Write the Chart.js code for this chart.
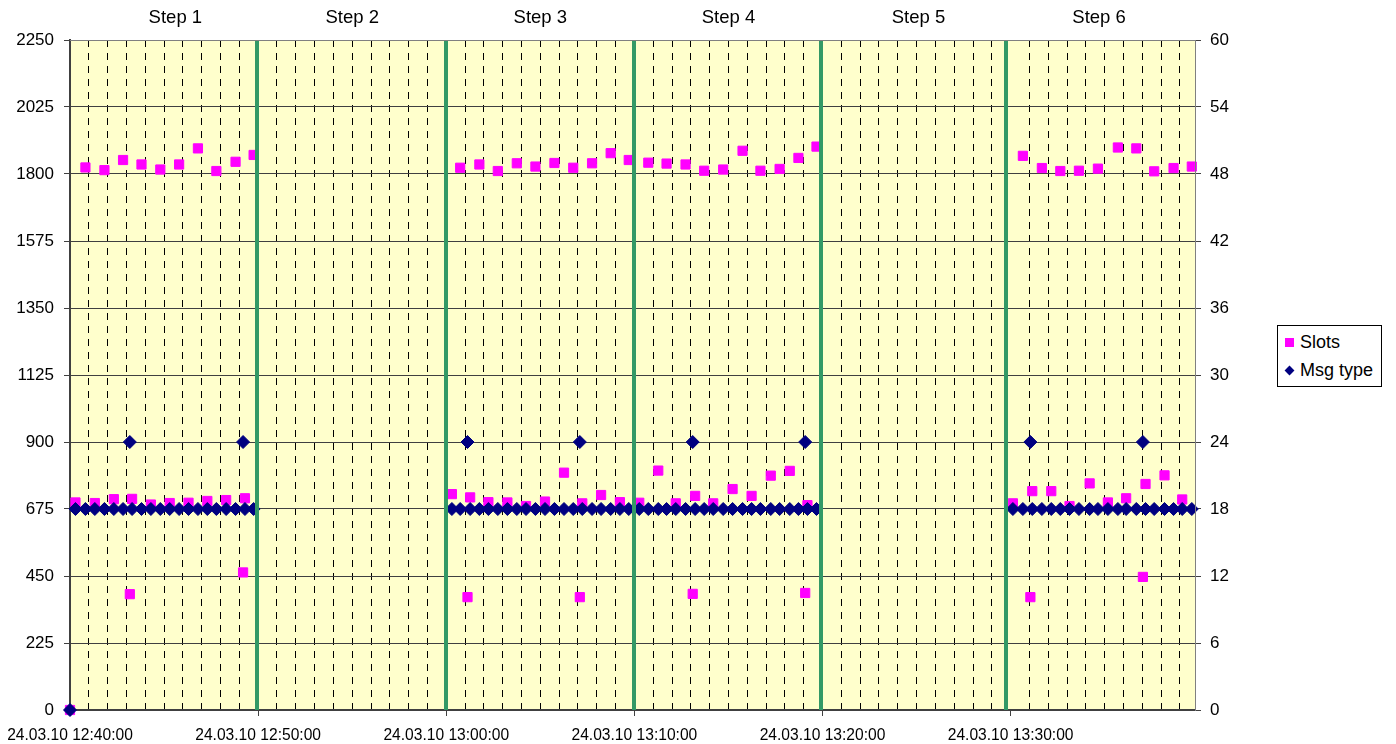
<!DOCTYPE html>
<html>
<head>
<meta charset="utf-8">
<title>Slots / Msg type</title>
<script src="https://cdn.jsdelivr.net/npm/chart.js@4.4.1/dist/chart.umd.min.js"></script>
<style>
  body { margin: 0; background: #fff; font-family: "Liberation Sans", Arial, sans-serif; }
  #wrap { position: relative; width: 1396px; height: 744px; }
  #legend {
    position: absolute; left: 1277px; top: 325px;
    border: 1px solid #000; background: #fff;
    padding: 2px 8px 2px 7px; font-size: 18px; line-height: 28px; color: #000;
  }
  #legend .item { white-space: nowrap; }
  #legend .sq { display: inline-block; width: 9px; height: 9px; background: #FF00FF; margin-right: 6px; vertical-align: 1px; }
  #legend .dm { display: inline-block; width: 7px; height: 7px; background: #000080; margin: 0 7px 0 1px; transform: rotate(45deg); vertical-align: 2px; }
</style>
</head>
<body>
<div id="wrap">
  <canvas id="chart" width="1396" height="744"></canvas>
  <div id="legend">
    <div class="item"><span class="sq"></span>Slots</div>
    <div class="item"><span class="dm"></span>Msg type</div>
  </div>
</div>
<script>
// minutes after 24.03.10 12:40:00
const times = [
  0, 0.29, 0.82, 1.32, 1.83, 2.33, 2.82, 3.18, 3.3, 3.8, 4.3, 4.8, 5.3, 5.8, 6.3, 6.8, 7.3, 7.78, 8.3, 8.8, 9.2, 9.3, 9.76,
  20.3, 20.74, 21.13, 21.27, 21.76, 22.24, 22.74, 23.25, 23.75, 24.24, 24.74, 25.25, 25.75, 26.26, 26.75, 27.1, 27.23, 27.75,
  28.23, 28.74, 29.23, 29.7, 30.26, 30.74, 31.27, 31.71, 32.2, 32.72, 33.1, 33.23, 33.71, 34.19, 34.72, 35.22, 35.75, 36.23,
  36.7, 37.25, 37.72, 38.26, 38.72, 39.08, 39.2, 39.68,
  50.12, 50.65, 51.05, 51.15, 51.66, 52.16, 52.64, 53.13, 53.63, 54.2, 54.64, 55.17, 55.7, 56.14, 56.68, 57.03, 57.17, 57.63,
  58.18, 58.66, 59.12, 59.63
];
const slots = [
  0, 697, 1822, 695, 1813, 708, 1847, 389, 709, 1832, 690, 1815, 695, 1832, 696, 1886, 702, 1810, 705, 1841, 462, 711, 1864,
  725, 1821, 379, 714, 1832, 698, 1810, 697, 1836, 685, 1825, 700, 1837, 797, 1821, 379, 694, 1836,
  722, 1870, 698, 1847, 696, 1838, 804, 1835, 694, 1832, 390, 719, 1811, 694, 1815, 742, 1878, 719,
  1811, 787, 1817, 803, 1854, 393, 688, 1892,
  694, 1861, 379, 735, 1820, 735, 1810, 685, 1811, 761, 1818, 697, 1889, 711, 1886, 447, 759, 1809,
  788, 1820, 707, 1825
];
const msgType = [
  0, 18, 18, 18, 18, 18, 18, 24, 18, 18, 18, 18, 18, 18, 18, 18, 18, 18, 18, 18, 24, 18, 18,
  18, 18, 24, 18, 18, 18, 18, 18, 18, 18, 18, 18, 18, 18, 18, 24, 18, 18,
  18, 18, 18, 18, 18, 18, 18, 18, 18, 18, 24, 18, 18, 18, 18, 18, 18, 18,
  18, 18, 18, 18, 18, 24, 18, 18,
  18, 18, 24, 18, 18, 18, 18, 18, 18, 18, 18, 18, 18, 18, 18, 24, 18, 18,
  18, 18, 18, 18
];
const stepNames = ['Step 1', 'Step 2', 'Step 3', 'Step 4', 'Step 5', 'Step 6'];
const stepCenters = [5.6, 15, 25, 35, 45.1, 54.7];
const stepBounds = [9.96, 20, 30, 39.93, 49.75];
const slotTicks = { min: 0, max: 2250, step: 225 };
const msgTicks = { min: 0, max: 60, step: 6 };

function clockLabel(v) {
  const t = 12 * 60 + 40 + Math.round(v);
  const hh = String(Math.floor(t / 60)).padStart(2, '0');
  const mm = String(t % 60).padStart(2, '0');
  return '24.03.10 ' + hh + ':' + mm + ':00';
}
const isMajor = v => Math.abs(v - Math.round(v / 10) * 10) < 1e-6;

const FONT = '"Liberation Sans", Arial, sans-serif';
Chart.defaults.font.family = FONT;
Chart.defaults.color = '#000';

// yellow plot background, green step separators and step titles
const plotDecor = {
  id: 'plotDecor',
  beforeDraw(chart) {
    const { ctx, chartArea: a } = chart;
    ctx.save();
    ctx.fillStyle = '#FFFFCC';
    ctx.fillRect(a.left, a.top, a.right - a.left, a.bottom - a.top);
    ctx.restore();
  },
  afterDatasetsDraw(chart) {
    const { ctx, chartArea: a, scales: { x } } = chart;
    ctx.save();
    ctx.strokeStyle = '#339966';
    ctx.lineWidth = 4;
    stepBounds.forEach(v => {
      const px = Math.round(x.getPixelForValue(v));
      ctx.beginPath();
      ctx.moveTo(px, a.top);
      ctx.lineTo(px, a.bottom);
      ctx.stroke();
    });
    // frame top / right
    ctx.strokeStyle = '#808080';
    ctx.lineWidth = 1;
    ctx.beginPath();
    ctx.moveTo(a.left, a.top + 0.5);
    ctx.lineTo(a.right + 0.5, a.top + 0.5);
    ctx.lineTo(a.right + 0.5, a.bottom);
    ctx.stroke();
    ctx.fillStyle = '#000';
    ctx.font = '18.5px ' + FONT;
    ctx.textAlign = 'center';
    ctx.textBaseline = 'middle';
    stepNames.forEach((s, i) => ctx.fillText(s, x.getPixelForValue(stepCenters[i]), 18));
    ctx.restore();
  }
};

const slotPoints = times.map((t, i) => ({ x: t, y: slots[i] }));
const msgPoints = times.map((t, i) => ({ x: t, y: msgType[i] }));

new Chart(document.getElementById('chart'), {
  type: 'scatter',
  data: {
    datasets: [
      {
        label: 'Msg type',
        data: msgPoints,
        yAxisID: 'y2',
        pointStyle: 'rectRot',
        pointRadius: 6.5,
        backgroundColor: '#000080',
        borderColor: '#000080',
        borderWidth: 1,
        order: 0,
        clip: false
      },
      {
        label: 'Slots',
        data: slotPoints,
        yAxisID: 'y',
        pointStyle: 'rect',
        pointRadius: 6.5,
        backgroundColor: '#FF00FF',
        borderColor: '#FF00FF',
        borderWidth: 1,
        order: 1,
        clip: false
      }
    ]
  },
  options: {
    responsive: false,
    animation: false,
    devicePixelRatio: 1,
    layout: { padding: { top: 40, left: 0, right: 0, bottom: 0 } },
    plugins: { legend: { display: false }, tooltip: { enabled: false } },
    scales: {
      x: {
        type: 'linear',
        min: 0,
        max: 59.8,
        ticks: {
          stepSize: 1,
          autoSkip: false,
          maxRotation: 0,
          includeBounds: false,
          padding: 10,
          font: { size: 15.6 },
          callback: v => (isMajor(v) && v < 60 ? clockLabel(v) : '')
        },
        grid: {
          color: c => (c.tick && !isMajor(c.tick.value) ? '#000' : 'rgba(0,0,0,0)'),
          lineWidth: 1,
          tickLength: 6,
          tickColor: c => (c.tick && isMajor(c.tick.value) ? '#404040' : 'rgba(0,0,0,0)')
        },
        border: { color: '#404040', width: 2, dash: [7, 6] },
        afterFit: s => {
          s.height = 34;
          s.paddingLeft = 0;
          s.paddingRight = 0;
        }
      },
      y: {
        position: 'left',
        min: slotTicks.min,
        max: slotTicks.max,
        ticks: { stepSize: slotTicks.step, padding: 10, font: { size: 17 }, callback: v => String(v) },
        grid: { color: '#404040', lineWidth: 1, tickLength: 6, tickColor: '#404040' },
        border: { color: '#404040', width: 2 },
        afterFit: s => { s.width = 70; }
      },
      y2: {
        position: 'right',
        min: msgTicks.min,
        max: msgTicks.max,
        ticks: { stepSize: msgTicks.step, padding: 9, font: { size: 17 }, callback: v => String(v) },
        grid: { drawOnChartArea: false, tickLength: 6, tickColor: '#404040' },
        border: { color: '#808080', width: 1 },
        afterFit: s => { s.width = 201; }
      }
    }
  },
  plugins: [plotDecor]
});
</script>
</body>
</html>
